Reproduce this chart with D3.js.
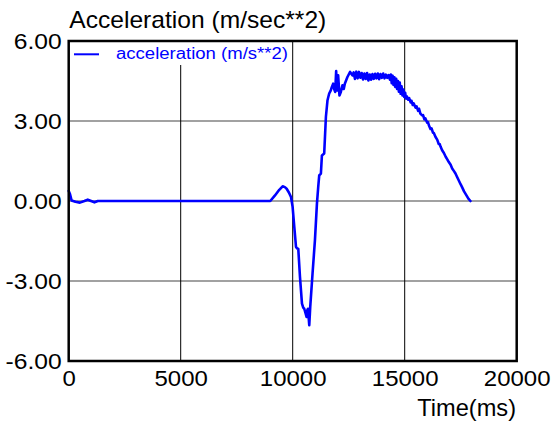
<!DOCTYPE html>
<html>
<head>
<meta charset="utf-8">
<script src="https://cdn.jsdelivr.net/npm/d3@7"></script>
<style>
  html, body { margin: 0; padding: 0; background: #fff; }
  svg { display: block; font-family: "Liberation Sans", Arial, sans-serif; }
</style>
</head>
<body>
<svg id="chart" width="553" height="423"></svg>
<script>
// ---- data ----
const chartTitle = "Acceleration (m/sec**2)";
const xAxisTitle = "Time(ms)";
const seriesName = "acceleration (m/s**2)";
const xTicks = [0, 5000, 10000, 15000, 20000];
const xTickLabels = ["0", "5000", "10000", "15000", "20000"];
const yTicks = [6, 3, 0, -3, -6];
const yTickLabels = ["6.00", "3.00", "0.00", "-3.00", "-6.00"];

const timeMs = [
  0, 60, 130, 300, 500, 700, 850, 1000, 1150, 1300, 9000,
  9200, 9400, 9550, 9650, 9730, 9830, 9924, 9996, 10071, 10147, 10200, 10249,
  10325, 10414, 10470, 10516, 10570, 10619, 10650, 10681, 10739, 10783, 10886,
  10993, 11082, 11139, 11184, 11259, 11304, 11406, 11482, 11554, 11629, 11700,
  11749, 11807, 11851, 11896, 11940, 11980, 12029, 12087, 12149, 12221, 12280,
  12327, 12443, 12563, 12666,
  12720, 12780, 12840, 12900, 12960, 13020, 13080, 13140, 13200, 13260, 13320,
  13380, 13440, 13500, 13560, 13620, 13680, 13740, 13800, 13860, 13920, 13980,
  14040, 14100, 14160, 14220, 14280, 14340,
  14380, 14420, 14460, 14500, 14540, 14580, 14620, 14660, 14700, 14740, 14780,
  14820, 14860, 14900, 14940, 14980, 15020, 15060, 15100,
  15150, 15200, 15265, 15300, 15360, 15400, 15487, 15530, 15600, 15640, 15700,
  15781, 15820, 15880, 15920, 16000, 16040, 16079, 16150, 16200, 16260, 16300,
  16377, 16450, 16520, 16560, 16600, 16671, 16750, 16830, 16900, 16969, 17050,
  17120, 17200, 17267, 17340, 17420, 17500, 17561, 17650, 17750, 17850, 17935
];
const accel = [
  0.38, 0.25, 0.02, -0.03, -0.06, 0.0, 0.05, 0.0, -0.05, 0.0, 0.0,
  0.2, 0.42, 0.55, 0.52, 0.46, 0.32, 0.15, -0.22, -0.97, -1.72, -1.78, -1.79,
  -2.85, -3.85, -4.0, -4.04, -4.2, -4.35, -4.1, -4.04, -4.66, -3.97, -2.72,
  -1.47, -0.1, 0.52, 0.96, 1.03, 1.71, 1.78, 3.15, 3.78, 4.03, 4.15,
  4.28, 4.40, 4.2, 4.09, 4.87, 4.15, 4.71, 3.96, 4.09, 4.34, 4.2,
  4.40, 4.65, 4.84, 4.71,
  4.82, 4.58, 4.85, 4.60, 4.84, 4.62, 4.80, 4.56, 4.78, 4.58, 4.80,
  4.52, 4.74, 4.55, 4.76, 4.58, 4.77, 4.60, 4.78, 4.57, 4.76, 4.62,
  4.78, 4.60, 4.74, 4.62, 4.72, 4.55,
  4.74, 4.42, 4.70, 4.35, 4.64, 4.28, 4.58, 4.20, 4.50, 4.10, 4.44,
  4.02, 4.30, 3.96, 4.18, 3.90, 4.06, 3.84, 3.92,
  3.80, 3.86, 3.70, 3.76, 3.60, 3.66, 3.50, 3.55, 3.38, 3.46, 3.28,
  3.21, 3.22, 3.06, 3.10, 2.94, 2.96, 2.84, 2.70, 2.72, 2.56, 2.55,
  2.40, 2.30, 2.14, 2.14, 2.04, 1.90, 1.80, 1.66, 1.56, 1.46, 1.36,
  1.22, 1.12, 1.03, 0.90, 0.76, 0.62, 0.52, 0.36, 0.22, 0.08, 0.0
];

// ---- layout ----
const plot = { left: 68.7, right: 516.7, top: 41, bottom: 361 };
const svg = d3.select("#chart");

const x = d3.scaleLinear().domain([0, 20000]).range([plot.left, plot.right]);
const y = d3.scaleLinear().domain([-6, 6]).range([plot.bottom, plot.top]);

function stretch(sel, k) {
  sel.each(function () {
    const w = this.getComputedTextLength();
    d3.select(this).attr("textLength", w * k).attr("lengthAdjust", "spacingAndGlyphs");
  });
}

// gridlines
svg.append("g")
  .selectAll("line")
  .data(yTicks.filter(v => v > -6 && v < 6))
  .join("line")
  .attr("x1", plot.left).attr("x2", plot.right)
  .attr("y1", d => y(d)).attr("y2", d => y(d))
  .attr("stroke", "#444").attr("stroke-width", 1.2);

svg.append("g")
  .selectAll("line")
  .data(xTicks.filter(v => v > 0 && v < 20000))
  .join("line")
  .attr("x1", d => x(d)).attr("x2", d => x(d))
  .attr("y1", plot.top).attr("y2", plot.bottom)
  .attr("stroke", "#000").attr("stroke-width", 1);

// legend background
svg.append("rect")
  .attr("x", plot.left).attr("y", plot.top)
  .attr("width", 222).attr("height", 24)
  .attr("fill", "#fff");

// data line
const pts = timeMs.map((t, i) => [t, accel[i]]);
const line = d3.line().x(d => x(d[0])).y(d => y(d[1]));
svg.append("path")
  .datum(pts)
  .attr("d", line)
  .attr("fill", "none")
  .attr("stroke", "#0000ff")
  .attr("stroke-width", 2.6)
  .attr("stroke-linejoin", "round")
  .attr("stroke-linecap", "round");

// frame
svg.append("rect")
  .attr("x", plot.left).attr("y", plot.top)
  .attr("width", plot.right - plot.left).attr("height", plot.bottom - plot.top)
  .attr("fill", "none").attr("stroke", "#000").attr("stroke-width", 2.5);

// axes (labels only)
const yAxis = d3.axisLeft(y).tickValues(yTicks)
  .tickFormat((d, i) => yTickLabels[i]).tickSize(0).tickPadding(7);
const gy = svg.append("g").attr("transform", `translate(${plot.left},0)`).call(yAxis);
gy.select(".domain").remove();
gy.selectAll("text")
  .attr("font-family", "Liberation Sans, Arial, sans-serif")
  .attr("font-size", 22).attr("fill", "#000").attr("dy", "0.36em");
stretch(gy.selectAll("text"), 1.12);

const xAxis = d3.axisBottom(x).tickValues(xTicks)
  .tickFormat((d, i) => xTickLabels[i]).tickSize(0).tickPadding(0);
const gx = svg.append("g").attr("transform", `translate(0,${plot.bottom})`).call(xAxis);
gx.select(".domain").remove();
gx.selectAll("text")
  .attr("font-family", "Liberation Sans, Arial, sans-serif")
  .attr("font-size", 22).attr("fill", "#000").attr("y", 25).attr("dy", 0);
stretch(gx.selectAll("text"), 1.09);

// titles
svg.append("text")
  .attr("x", 69.3).attr("y", 27.7)
  .attr("font-size", 24).attr("fill", "#000")
  .text(chartTitle)
  .attr("textLength", 257).attr("lengthAdjust", "spacingAndGlyphs");

svg.append("text")
  .attr("x", 516).attr("y", 415.7)
  .attr("text-anchor", "end")
  .attr("font-size", 24).attr("fill", "#000")
  .text(xAxisTitle)
  .attr("textLength", 98.7).attr("lengthAdjust", "spacingAndGlyphs");

// legend
svg.append("line")
  .attr("x1", 74).attr("x2", 99).attr("y1", 54.3).attr("y2", 54.3)
  .attr("stroke", "#0000ff").attr("stroke-width", 2);
svg.append("text")
  .attr("x", 116).attr("y", 58.7)
  .attr("font-size", 16).attr("fill", "#0000ff")
  .text(seriesName)
  .attr("textLength", 172).attr("lengthAdjust", "spacingAndGlyphs");
</script>
</body>
</html>
